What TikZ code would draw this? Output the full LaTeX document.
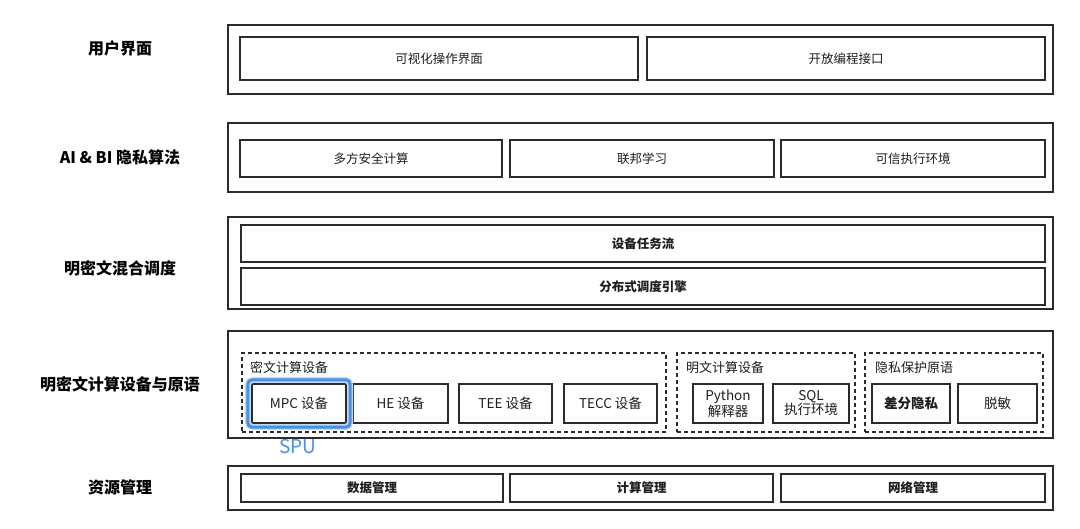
\documentclass[tikz,border=0pt]{standalone}
\usepackage{fontspec}
\setmainfont{Noto Sans CJK SC}
\usetikzlibrary{fit}
\definecolor{edge}{HTML}{2B2B2B}
\definecolor{txt}{HTML}{1E1E1E}
\definecolor{hlblue}{HTML}{4A8FE2}
\tikzset{
  outer/.style={draw=edge, line width=1.1pt, inner sep=0pt},
  box/.style={draw=edge, line width=1.2pt, inner sep=0pt, align=center, text=txt,
    font=\fontsize{12.5}{14.5}\selectfont},
  boldbox/.style={box, font=\fontsize{12.5}{14.5}\selectfont\bfseries},
  devbox/.style={box, font=\fontsize{13.5}{14}\selectfont},
  group/.style={draw=edge, line width=1.1pt, dash pattern=on 4pt off 3pt, inner sep=0pt},
  grouplabel/.style={anchor=west, inner sep=0pt, text=txt, font=\fontsize{13}{15}\selectfont},
  layerlabel/.style={inner sep=0pt, text=black, font=\fontsize{16}{18}\selectfont\bfseries},
  hl/.style={draw=hlblue, line width=3pt, rounded corners=4pt, inner sep=3.5pt},
  spu/.style={inner sep=0pt, text=hlblue, font=\fontsize{19}{21}\selectfont},
}
\begin{document}
\begin{tikzpicture}[x=1pt, y=-1pt]
\useasboundingbox[fill=white] (0,0) rectangle (1080,529);

% layer labels
\node[layerlabel] (l1) at (120,48) {用户界面};
\node[layerlabel] (l2) at (120,157) {AI \& BI 隐私算法};
\node[layerlabel] (l3) at (120,268) {明密文混合调度};
\node[layerlabel] (l4) at (120,384) {明密文计算设备与原语};
\node[layerlabel] (l5) at (120,487) {资源管理};

% row 1
\node[outer, minimum width=825pt, minimum height=69pt] (o1) at (640.5,59.5) {};
\node[box, minimum width=398pt, minimum height=43pt] (r1a) at (439,58.5) {可视化操作界面};
\node[box, minimum width=398pt, minimum height=43pt] (r1b) at (846,58.5) {开放编程接口};

% row 2
\node[outer, minimum width=825pt, minimum height=69pt] (o2) at (640.5,157.5) {};
\node[box, minimum width=262pt, minimum height=37pt] (r2a) at (371,158.5) {多方安全计算};
\node[box, minimum width=264pt, minimum height=37pt] (r2b) at (642,158.5) {联邦学习};
\node[box, minimum width=264pt, minimum height=37pt] (r2c) at (913,158.5) {可信执行环境};

% row 3
\node[outer, minimum width=825pt, minimum height=92pt] (o3) at (640.5,263) {};
\node[boldbox, minimum width=804pt, minimum height=37pt] (r3a) at (643,243.5) {设备任务流};
\node[boldbox, minimum width=804pt, minimum height=37pt] (r3b) at (643,286.5) {分布式调度引擎};

% row 4
\node[outer, minimum width=825pt, minimum height=107pt] (o4) at (640.5,384.5) {};
\node[group, minimum width=424pt, minimum height=79pt] (g1) at (454,392.5) {};
\node[group, minimum width=178pt, minimum height=79pt] (g2) at (766,392.5) {};
\node[group, minimum width=178pt, minimum height=79pt] (g3) at (954,392.5) {};
\node[grouplabel] (g1l) at (250,368) {密文计算设备};
\node[grouplabel] (g2l) at (686,368) {明文计算设备};
\node[grouplabel] (g3l) at (875,368) {隐私保护原语};

\node[devbox, minimum width=94pt, minimum height=39pt] (mpc) at (299,403.5) {MPC 设备};
\node[devbox, minimum width=95pt, minimum height=39pt] (he) at (400.5,403.5) {HE 设备};
\node[devbox, minimum width=93pt, minimum height=39pt] (tee) at (505.5,403.5) {TEE 设备};
\node[devbox, minimum width=93pt, minimum height=39pt] (tecc) at (610.5,403.5) {TECC 设备};
\node[devbox, minimum width=70pt, minimum height=39pt] (py) at (728,403.5) {Python\\解释器};
\node[devbox, minimum width=76pt, minimum height=39pt] (sql) at (811,403.5) {SQL\\执行环境};
\node[devbox, minimum width=78pt, minimum height=39pt, font=\fontsize{13.5}{14}\selectfont\bfseries] (dp) at (911,403.5) {差分隐私};
\node[devbox, minimum width=79pt, minimum height=39pt] (mask) at (997.5,403.5) {脱敏};

\node[draw=hlblue!35, line width=6pt, rounded corners=5pt, inner sep=3.5pt, fit=(mpc)] (glow) {};
\node[hl, fit=(mpc)] (hlbox) {};
\node[spu] (spu) at (298,447) {SPU};

% row 5
\node[outer, minimum width=825pt, minimum height=44pt] (o5) at (640.5,488) {};
\node[boldbox, minimum width=262pt, minimum height=28pt] (r5a) at (372,488) {数据管理};
\node[boldbox, minimum width=263pt, minimum height=28pt] (r5b) at (641.5,488) {计算管理};
\node[boldbox, minimum width=264pt, minimum height=28pt] (r5c) at (913,488) {网络管理};
\end{tikzpicture}
\end{document}
